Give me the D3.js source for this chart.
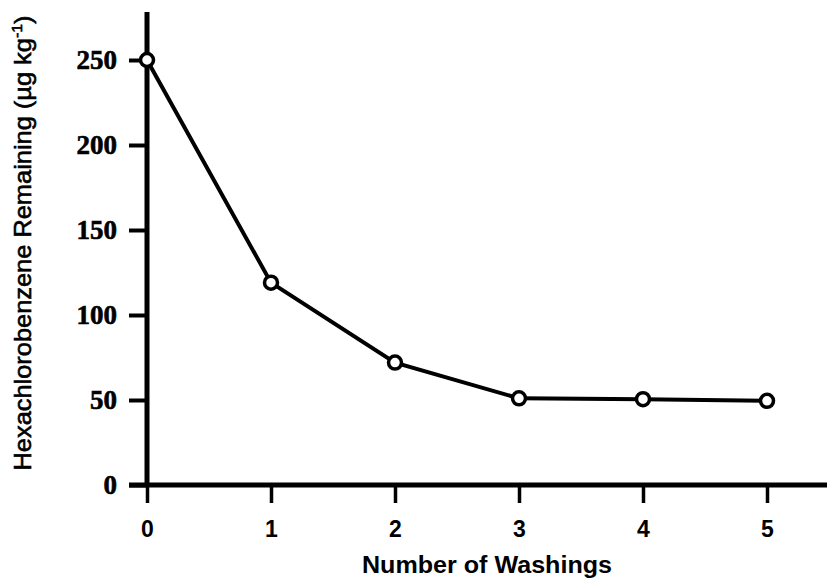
<!DOCTYPE html>
<meta charset="utf-8">
<script src="https://d3js.org/d3.v7.min.js"></script>
<style>
  body { margin: 0; background: #fff; }
</style>
<div id="chart"></div>
<script>

// data
var washings = [0, 1, 2, 3, 4, 5]
var remaining = [250, 119, 72, 51, 50.5, 49.5]
var yTicks = [0, 50, 100, 150, 200, 250]
var xTicks = [0, 1, 2, 3, 4, 5]

var width = 827, height = 580

var svg = d3.select("#chart")
  .append("svg")
    .attr("width", width)
    .attr("height", height)

// scales (plot origin at 147,485)
var x = d3.scaleLinear()
  .domain([0, 5])
  .range([147, 767])
var y = d3.scaleLinear()
  .domain([0, 250])
  .range([485, 60])

// y axis
var yAxis = svg.append("g")
  .attr("transform", "translate(" + x(0) + ",0)")
  .call(d3.axisLeft(y).tickValues(yTicks).tickSize(18).tickSizeOuter(0).tickPadding(12))
yAxis.select(".domain").remove()
yAxis.selectAll(".tick line").attr("stroke", "#000").attr("stroke-width", 4)
yAxis.selectAll(".tick text")
  .attr("font-family", "'Liberation Serif', 'Times New Roman', serif")
  .attr("font-weight", "bold")
  .attr("font-size", 27)
  .attr("fill", "#000")
  .style("stroke", "#000")
  .style("stroke-width", 0.6)

// x axis
var xAxis = svg.append("g")
  .attr("transform", "translate(0," + y(0) + ")")
  .call(d3.axisBottom(x).tickValues(xTicks).tickFormat(d3.format("d"))
    .tickSize(18).tickSizeOuter(0).tickPadding(18))
xAxis.select(".domain").remove()
xAxis.selectAll(".tick line").attr("stroke", "#000").attr("stroke-width", 3.5)
xAxis.selectAll(".tick text")
  .attr("font-family", "'Liberation Sans', Arial, sans-serif")
  .attr("font-weight", "bold")
  .attr("font-size", 23)
  .attr("fill", "#000")

// long axis lines
svg.append("line")
  .attr("x1", x(0)).attr("x2", x(0))
  .attr("y1", 12).attr("y2", y(0) + 2)
  .attr("stroke", "#000").attr("stroke-width", 5)
svg.append("line")
  .attr("x1", x(0) - 18).attr("x2", width)
  .attr("y1", y(0)).attr("y2", y(0))
  .attr("stroke", "#000").attr("stroke-width", 5)

// the line
var pts = washings.map(function(d, i){ return [d, remaining[i]] })
svg.append("path")
  .datum(pts)
  .attr("fill", "none")
  .attr("stroke", "#000")
  .attr("stroke-width", 4)
  .attr("d", d3.line()
    .x(function(d){ return x(d[0]) })
    .y(function(d){ return y(d[1]) }))

svg.selectAll("circle.pt")
  .data(pts)
  .enter()
  .append("circle")
    .attr("class", "pt")
    .attr("cx", function(d){ return x(d[0]) })
    .attr("cy", function(d){ return y(d[1]) })
    .attr("r", 6.5)
    .attr("fill", "#fff")
    .attr("stroke", "#000")
    .attr("stroke-width", 3.5)

// axis titles
svg.append("text")
  .attr("x", 487)
  .attr("y", 573)
  .attr("text-anchor", "middle")
  .attr("font-family", "'Liberation Sans', Arial, sans-serif")
  .attr("font-weight", "bold")
  .attr("font-size", 23)
  .attr("textLength", 250)
  .attr("lengthAdjust", "spacingAndGlyphs")
  .text("Number of Washings")

var yl = svg.append("text")
  .attr("transform", "translate(31,243) rotate(-90)")
  .attr("text-anchor", "middle")
  .attr("font-family", "'Liberation Sans', Arial, sans-serif")
  .attr("font-size", 24)
  .attr("textLength", 455)
  .attr("lengthAdjust", "spacingAndGlyphs")
  .attr("fill", "#000")
  .style("stroke", "#000")
  .style("stroke-width", 0.6)
yl.append("tspan").text("Hexachlorobenzene Remaining (µg kg")
yl.append("tspan").attr("dy", -9).attr("font-size", 15).text("-1")
yl.append("tspan").attr("dy", 9).text(")")

</script>
